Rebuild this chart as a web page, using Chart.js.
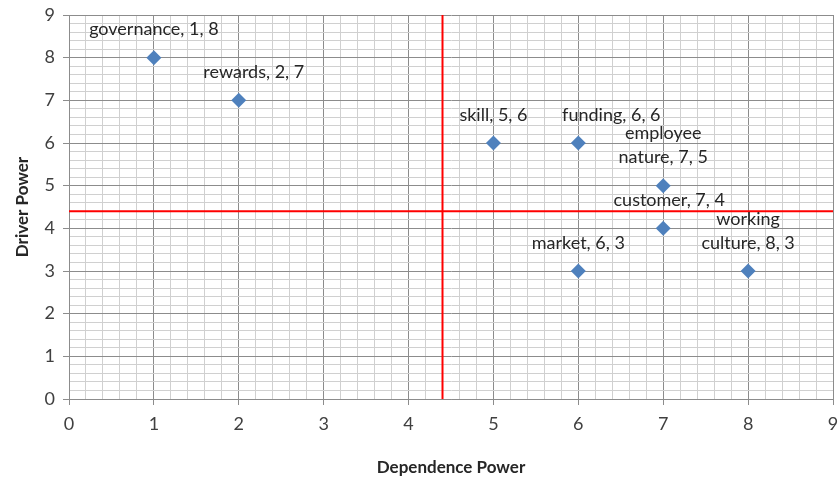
<!DOCTYPE html>
<html><head><meta charset="utf-8">
<script src="https://cdn.jsdelivr.net/npm/chart.js@4/dist/chart.umd.min.js"></script>
<style>html,body{margin:0;padding:0;background:#fff}#wrap{width:838px;height:482px}</style>
</head><body><div id="wrap"><canvas id="c" width="838" height="482"></canvas></div>
<script>
const names = ["governance", "rewards", "skill", "funding", "employee\nnature", "customer", "market", "working\nculture"];
const dependence = [1, 2, 5, 6, 7, 7, 6, 8];
const driver = [8, 7, 6, 6, 5, 4, 3, 3];
const xTicks = [0,1,2,3,4,5,6,7,8,9];
const yTicks = [0,1,2,3,4,5,6,7,8,9];
const cutX = 4.4, cutY = 4.4;
// label nudges (px) relative to default position above point
const labelNudgeX = [0, 15, 0, 33, 0, 6, 0, 0];

const FONT = "Lato, 'Open Sans', sans-serif";
const isInt = v => Math.abs(v - Math.round(v)) < 1e-6;

const points = dependence.map((x, i) => ({x, y: driver[i]}));

const labelPlugin = {
  id: 'pointLabels',
  afterDatasetsDraw(chart) {
    const ctx = chart.ctx;
    const meta = chart.getDatasetMeta(2);
    ctx.save();
    ctx.font = "18px " + FONT;
    ctx.fillStyle = '#262626';
    ctx.textAlign = 'center';
    ctx.textBaseline = 'middle';
    meta.data.forEach((el, i) => {
      const lines = (names[i] + ", " + dependence[i] + ", " + driver[i]).split("\n");
      const n = lines.length;
      lines.forEach((ln, k) => {
        const y = el.y - 28 - (n - 1 - k) * 24;
        ctx.fillText(ln, el.x + labelNudgeX[i], y);
      });
    });
    ctx.restore();
  }
};

new Chart(document.getElementById('c'), {
  type: 'scatter',
  data: {
    datasets: [
      { data: [{x: cutX, y: 0}, {x: cutX, y: 9}], showLine: true, borderColor: '#ff0000', borderWidth: 2, pointRadius: 0, pointHoverRadius: 0, order: 2 },
      { data: [{x: 0, y: cutY}, {x: 9, y: cutY}], showLine: true, borderColor: '#ff0000', borderWidth: 2, pointRadius: 0, pointHoverRadius: 0, order: 2 },
      { data: points, pointStyle: 'rectRot', pointRadius: 7.5, pointHoverRadius: 7.5,
        backgroundColor: '#4F81BD', borderColor: '#4F81BD', borderWidth: 0, order: 1 }
    ]
  },
  options: {
    responsive: false, animation: false, devicePixelRatio: 1,
    layout: { autoPadding: false, padding: { top: 15, right: 5, left: 0, bottom: 0 } },
    plugins: { legend: { display: false }, tooltip: { enabled: false } },
    scales: {
      x: {
        type: 'linear', min: 0, max: 9,
        afterFit(s) { s.height = 83; s.paddingRight = 0; s.paddingLeft = 0; },
        ticks: { stepSize: 0.2, autoSkip: false, maxRotation: 0, color: '#404040', padding: 8,
          font: { family: FONT, size: 18 },
          callback: v => isInt(v) && xTicks.includes(Math.round(v)) ? String(Math.round(v)) : '' },
        grid: { color: c => isInt(c.tick.value) ? '#8c8c8c' : '#d0d0d0', lineWidth: 1,
          tickColor: c => isInt(c.tick.value) ? '#8c8c8c' : 'rgba(0,0,0,0)', tickLength: 6 },
        border: { color: '#8c8c8c' },
        title: { display: true, text: 'Dependence Power', color: '#262626',
          font: { family: FONT, size: 17, weight: 'bold' }, padding: { top: 16 } }
      },
      y: {
        type: 'linear', min: 0, max: 9,
        afterFit(s) { s.width = 69; s.paddingTop = 0; s.paddingBottom = 0; },
        ticks: { stepSize: 0.2, autoSkip: false, color: '#404040', padding: 8,
          font: { family: FONT, size: 18 },
          callback: v => isInt(v) && yTicks.includes(Math.round(v)) ? String(Math.round(v)) : '' },
        grid: { color: c => isInt(c.tick.value) ? '#8c8c8c' : '#d0d0d0', lineWidth: 1,
          tickColor: c => isInt(c.tick.value) ? '#8c8c8c' : 'rgba(0,0,0,0)', tickLength: 6 },
        border: { color: '#8c8c8c' },
        title: { display: true, text: 'Driver Power', color: '#262626',
          font: { family: FONT, size: 17, weight: 'bold' }, padding: { top: 12, bottom: 4 } }
      }
    }
  },
  plugins: [labelPlugin]
});
</script>
</body></html>
